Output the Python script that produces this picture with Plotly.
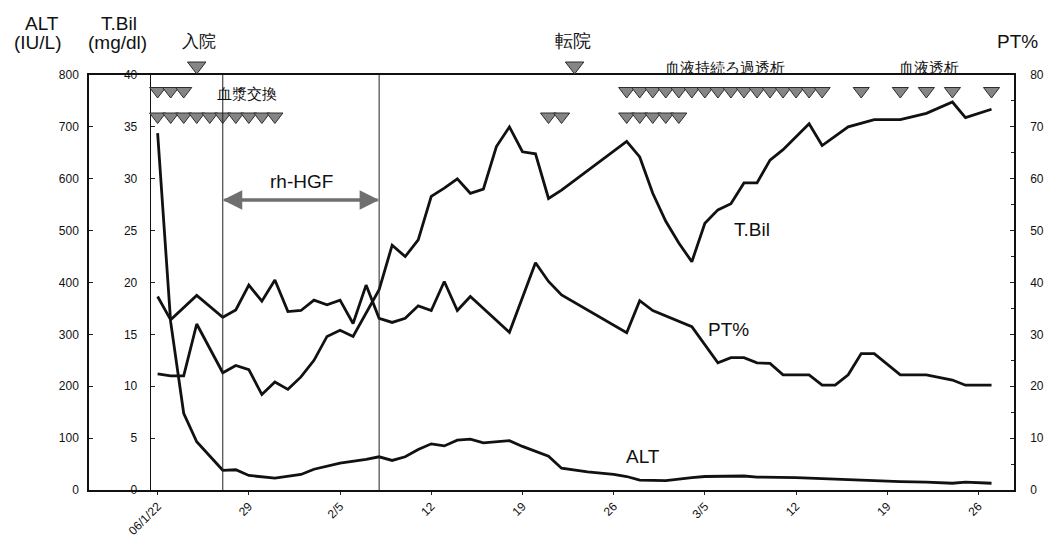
import plotly.graph_objects as go

# ---------------- data (x = days after 2006-01-22) ----------------
x_tick_days = [0, 7, 14, 21, 28, 35, 42, 49, 56, 63]
x_tick_labels = ["06/1/22", "29", "2/5", "12", "19", "26", "3/5", "12", "19", "26"]

alt_days = [0, 1, 2, 3, 5, 6, 7, 9, 11, 12, 14, 16, 17, 18, 19, 20, 21, 22, 23, 24,
            25, 26, 27, 28, 29, 30, 31, 33, 35, 36, 37, 39, 41, 42, 45, 46, 49, 51,
            53, 55, 57, 59, 61, 62, 64]
alt_vals = [688, 324, 148, 93, 38, 39, 28, 23, 30, 40, 52, 59, 64, 57, 64, 78, 89, 85, 96, 98,
            91, 93, 95, 84, 75, 65, 42, 35, 30, 26, 19, 18, 24, 26, 27, 25, 24, 22,
            19, 17, 16, 15, 13, 15, 13]

tbil_days = [0, 1, 2, 3, 5, 6, 7, 8, 9, 10, 11, 12, 13, 14, 15, 16, 17, 18, 19, 20,
             21, 22, 23, 24, 25, 26, 27, 28, 29, 30, 31, 36, 37, 38, 39, 40, 41, 42,
             43, 44, 45, 46, 47, 48, 50, 51, 53, 55, 57, 59, 61, 62, 64]
tbil_vals = [11.2, 11.0, 11.0, 16.0, 11.3, 12.0, 11.6, 9.2, 10.4, 9.7, 10.9, 12.5, 14.8, 15.4,
             14.8, 17.0, 19.3, 23.6, 22.5, 24.1, 28.3, 29.1, 30.0, 28.6, 29.0, 33.1, 35.0,
             32.6, 32.4, 28.1, 28.9, 33.6, 32.1, 28.6, 25.9, 23.8, 22.0, 25.7, 27.0, 27.6,
             29.6, 29.6, 31.8, 32.8, 35.3, 33.2, 35.0, 35.7, 35.7, 36.3, 37.4, 35.9, 36.7]

pt_days = [0, 1, 3, 5, 6, 7, 8, 9, 10, 11, 12, 13, 14, 15, 16, 17, 18, 19, 20, 21, 22,
           23, 24, 27, 29, 30, 31, 36, 37, 38, 41, 43, 44, 45, 46, 47, 48, 50, 51, 52,
           53, 54, 55, 57, 59, 61, 62, 64]
pt_vals = [37.3, 32.8, 37.5, 33.3, 34.7, 39.5, 36.4, 40.5, 34.4, 34.6, 36.6, 35.7, 36.6,
           32.1, 39.5, 33.1, 32.3, 33.1, 35.5, 34.6, 40.2, 34.6, 37.3, 30.4, 43.8, 40.2,
           37.6, 30.3, 36.5, 34.6, 31.5, 24.5, 25.5, 25.5, 24.5, 24.4, 22.2, 22.2, 20.2,
           20.2, 22.2, 26.3, 26.3, 22.2, 22.2, 21.2, 20.2, 20.2]

# treatment days (triangles)
upper_row_days = [0, 1, 2, 36, 37, 38, 39, 40, 41, 42, 43, 44, 45, 46, 47, 48, 49, 50, 51,
                  54, 57, 59, 61, 64]
lower_row_days = [0, 1, 2, 3, 4, 5, 6, 7, 8, 9, 30, 31, 36, 37, 38, 39, 40]
event_days = [3, 32]            # 入院, 転院
rh_hgf_period = [5, 17]

# ---------------- layout helpers (reference pixel coordinates) ----------------
REF_W, REF_H = 1056, 554
PAGE_PAD = 8                      # default body margin of the html page
L, R, T, B = 89, 1019, 75, 490    # chart frame in the reference picture
TOP = 55                          # top of the plotting region (room for event marks)
DAY0_PX, PX_PER_DAY = 158, 13.1


def px(x):
    return (x - L) / (R - L)


def py(y):
    return (B - y) / (B - TOP)


FRAME_TOP = py(T)

FONT = "Liberation Sans, Arial, sans-serif"
LINE = "#111111"
TRI_FILL = "#858585"
TRI_EDGE = "#2e2e2e"

fig = go.Figure()

fig.add_trace(go.Scatter(x=alt_days, y=alt_vals, mode="lines", yaxis="y",
                         line=dict(color=LINE, width=2.8), name="ALT"))
fig.add_trace(go.Scatter(x=tbil_days, y=tbil_vals, mode="lines", yaxis="y2",
                         line=dict(color=LINE, width=2.8), name="T.Bil"))
fig.add_trace(go.Scatter(x=pt_days, y=pt_vals, mode="lines", yaxis="y3",
                         line=dict(color=LINE, width=2.8), name="PT%"))

for days, row_px, size in [(upper_row_days, 91, 14), (lower_row_days, 116.5, 14),
                           (event_days, 66, 16)]:
    fig.add_trace(go.Scatter(
        x=days, y=[py(row_px)] * len(days), mode="markers", yaxis="y4", cliponaxis=False,
        marker=dict(symbol="triangle-down", size=size, color=TRI_FILL,
                    line=dict(color=TRI_EDGE, width=1))))

shapes = []
for d in rh_hgf_period:
    shapes.append(dict(type="line", xref="x", yref="paper", x0=d, x1=d, y0=0, y1=FRAME_TOP,
                       line=dict(color="#222", width=1)))

annotations = []
# double arrow for rh-HGF
arrow_y = py(200) / FRAME_TOP * 800
for head, tail in [(rh_hgf_period[1], rh_hgf_period[0]), (rh_hgf_period[0], rh_hgf_period[1])]:
    annotations.append(dict(x=head, y=arrow_y, ax=tail, ay=arrow_y, xref="x", yref="y",
                            axref="x", ayref="y", text="", showarrow=True, arrowhead=2,
                            arrowsize=1.3, arrowwidth=3, arrowcolor="#6f6f6f"))


def label(text, x, y, size=19, **kw):
    annotations.append(dict(text=text, x=px(x), y=py(y), xref="paper", yref="paper",
                            xanchor="center", yanchor="middle", showarrow=False,
                            font=dict(family=FONT, size=size, color="#111"), **kw))


label("ALT", 42, 23)
label("(IU/L)", 38, 42)
label("T.Bil", 119, 23)
label("(mg/dl)", 118, 42)
label("入院", 200, 41, size=17)
label("転院", 576, 41, size=18)
label("PT%", 1023, 41)
label("血液持続ろ過透析", 728, 67, size=15)
label("血液透析", 934, 67, size=15)
label("血漿交換", 248, 93, size=15)
label("rh-HGF", 303, 181, size=19)
label("T.Bil", 756, 229)
label("PT%", 732, 329)
label("ALT", 646, 456)

axis_font = dict(family=FONT, size=12, color="#111")
frame_domain = [0, FRAME_TOP]

fig.update_layout(
    width=REF_W - PAGE_PAD, height=REF_H - PAGE_PAD,
    margin=dict(l=L - PAGE_PAD, r=REF_W - R, t=TOP - PAGE_PAD, b=REF_H - B),
    paper_bgcolor="white", plot_bgcolor="rgba(0,0,0,0)",
    showlegend=False,
    font=dict(family=FONT, color="#111"),
    xaxis=dict(
        range=[(L - DAY0_PX) / PX_PER_DAY, (R - DAY0_PX) / PX_PER_DAY],
        tickvals=x_tick_days, ticktext=x_tick_labels, tickangle=-45,
        tickfont=axis_font, ticks="outside", ticklen=3, tickcolor="#222",
        showline=True, linecolor="#111", linewidth=1.5, mirror=True,
        showgrid=False, zeroline=False, anchor="y",
    ),
    yaxis=dict(
        domain=frame_domain,
        range=[0, 800], tickvals=[0, 100, 200, 300, 400, 500, 600, 700, 800],
        tickfont=axis_font, ticks="inside", ticklen=4, tickcolor="#222",
        showline=True, linecolor="#111", linewidth=1.5,
        showgrid=False, zeroline=False, ticklabelstandoff=6,
    ),
    yaxis2=dict(
        range=[0, 40], dtick=5, overlaying="y", anchor="free", position=px(150),
        side="left", tickfont=axis_font, ticks="inside", ticklen=4, tickcolor="#222",
        showline=True, linecolor="#111", linewidth=1,
        showgrid=False, zeroline=False, ticklabelstandoff=10,
    ),
    yaxis3=dict(
        range=[0, 80], dtick=10, overlaying="y", anchor="x", side="right",
        tickfont=axis_font, ticks="inside", ticklen=4, tickcolor="#222",
        minor=dict(dtick=5, ticks="inside", ticklen=3, tickcolor="#222"),
        showline=True, linecolor="#111", linewidth=1.5,
        showgrid=False, zeroline=False, ticklabelstandoff=12,
    ),
    yaxis4=dict(domain=[0, 1], range=[0, 1], anchor="x", visible=False,
                showgrid=False, zeroline=False),
    shapes=shapes,
    annotations=annotations,
)

fig.write_html("out.html")
